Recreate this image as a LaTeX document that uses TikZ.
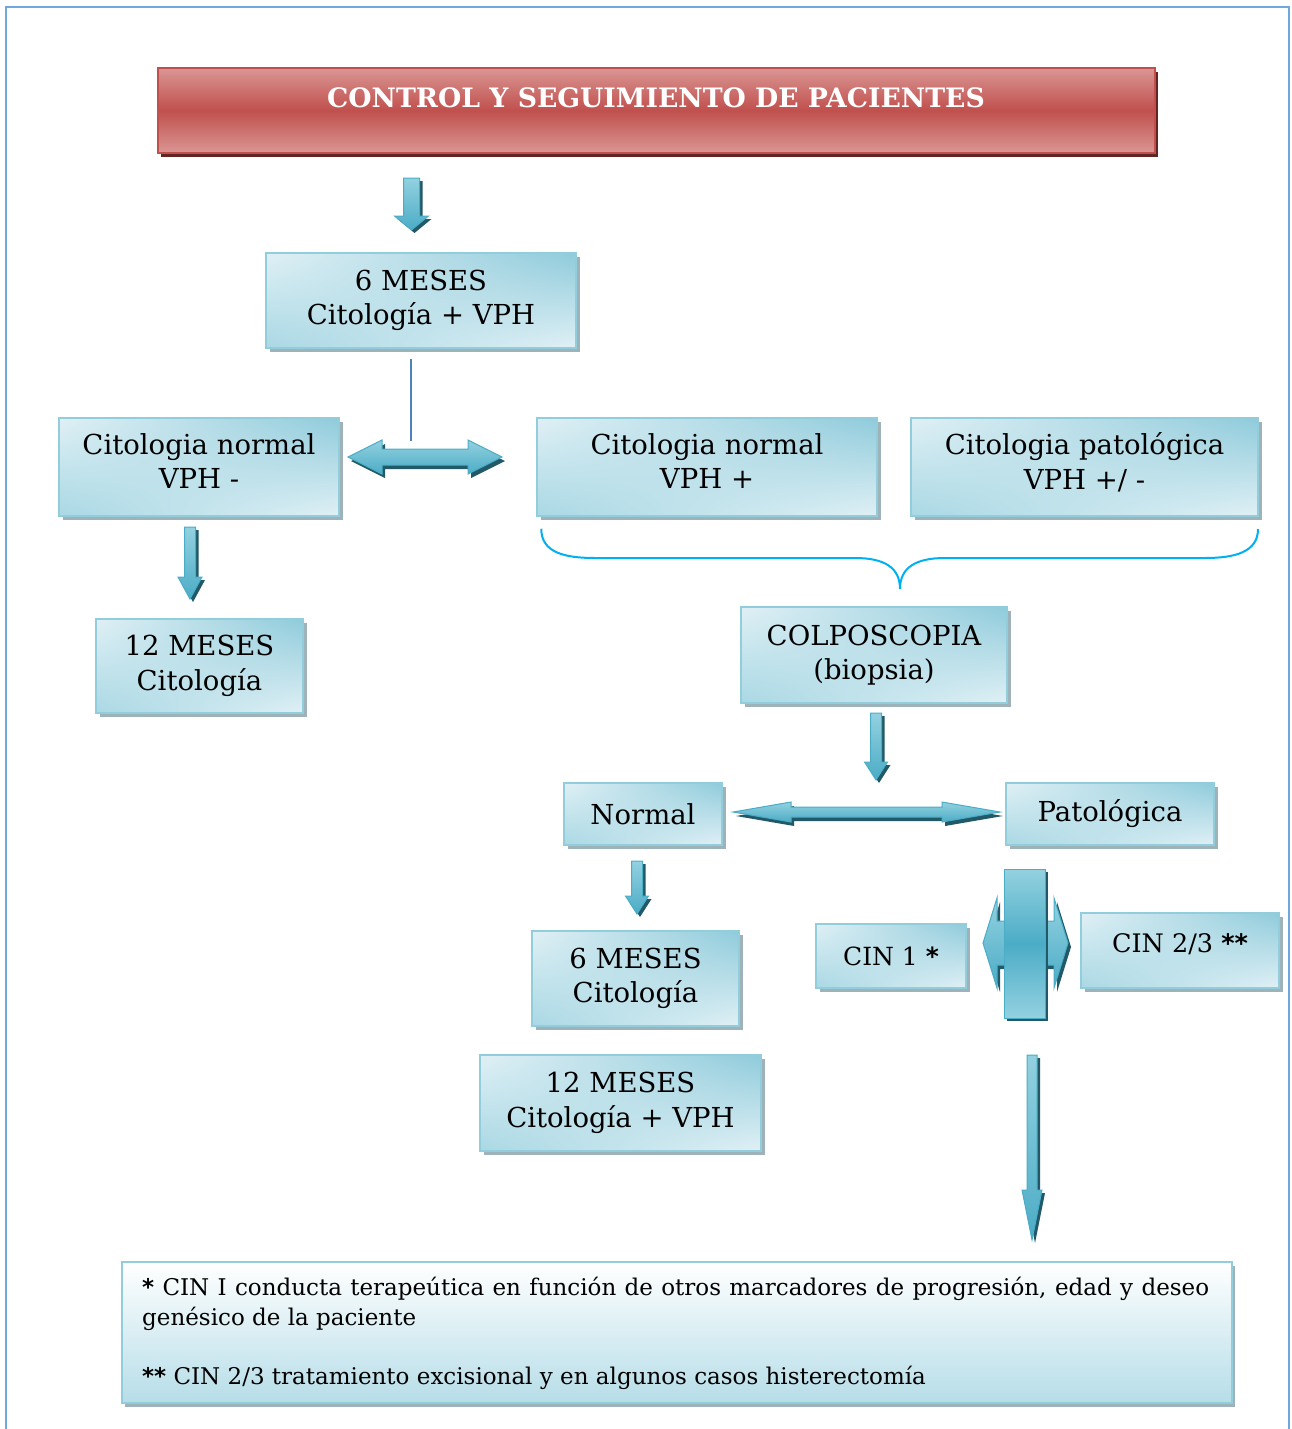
\documentclass[tikz,border=0pt]{standalone}
\usepackage{fontspec}
\setmainfont{DejaVu Serif}
\newfontfamily\astfont{DejaVu Sans}
\usetikzlibrary{shadows,shadings,calc}

\definecolor{framec}{HTML}{6FA8DC}
\definecolor{titlelight}{HTML}{DA9694}
\definecolor{titledark}{HTML}{C0504D}
\definecolor{titleshadow}{HTML}{632523}
\definecolor{bxlight}{HTML}{E0F0F5}
\definecolor{bxmid}{HTML}{A9D8E4}
\definecolor{bxdark}{HTML}{8FCBDB}
\definecolor{bxedge}{HTML}{92CDDC}
\definecolor{bxshadow}{HTML}{9DB2B9}
\definecolor{arrfill}{HTML}{4BACC6}
\definecolor{arrlight}{HTML}{93D1E0}
\definecolor{arrshadow}{HTML}{215968}
\definecolor{bracec}{HTML}{00B0F0}
\definecolor{linec}{HTML}{4F81BD}
\definecolor{notebottom}{HTML}{B6DDE8}

\tikzset{
  bx/.style={rectangle, draw=bxedge, line width=1.5pt,
    upper left=bxlight, upper right=bxdark, lower left=bxmid, lower right=bxlight,
    align=center, inner sep=0pt, font=\fontsize{27.5}{34.5}\selectfont,
    general shadow={fill=bxshadow, shadow xshift=4pt, shadow yshift=-4pt}},
  arrbody/.style={top color=arrlight, bottom color=arrfill, draw=arrfill, line width=1pt},
  arrshade/.style={fill=arrshadow}
}

% block arrow pointing down: x, top, tip, shaft half width, head half width, head length
\newcommand{\DownBlock}[6]{%
  \fill[arrshade, shift={(3,3)}] ({#1-#4},#2) -- ({#1+#4},#2) -- ({#1+#4},{#3-#6}) -- ({#1+#5},{#3-#6}) -- (#1,#3) -- ({#1-#5},{#3-#6}) -- ({#1-#4},{#3-#6}) -- cycle;
  \path[arrbody] ({#1-#4},#2) -- ({#1+#4},#2) -- ({#1+#4},{#3-#6}) -- ({#1+#5},{#3-#6}) -- (#1,#3) -- ({#1-#5},{#3-#6}) -- ({#1-#4},{#3-#6}) -- cycle;}

% block arrow with two heads, left-right: x1, x2, y, shaft half width, head half width, head length
\newcommand{\TwinBlock}[6]{%
  \fill[arrshade, shift={(3,4)}] (#1,#3) -- ({#1+#6},{#3-#5}) -- ({#1+#6},{#3-#4}) -- ({#2-#6},{#3-#4}) -- ({#2-#6},{#3-#5}) -- (#2,#3) -- ({#2-#6},{#3+#5}) -- ({#2-#6},{#3+#4}) -- ({#1+#6},{#3+#4}) -- ({#1+#6},{#3+#5}) -- cycle;
  \path[arrbody] (#1,#3) -- ({#1+#6},{#3-#5}) -- ({#1+#6},{#3-#4}) -- ({#2-#6},{#3-#4}) -- ({#2-#6},{#3-#5}) -- (#2,#3) -- ({#2-#6},{#3+#5}) -- ({#2-#6},{#3+#4}) -- ({#1+#6},{#3+#4}) -- ({#1+#6},{#3+#5}) -- cycle;}

\begin{document}
\begin{tikzpicture}[x=1pt, y=-1pt]
\useasboundingbox (0,0) rectangle (1291,1429);

% page frame
\draw[framec, line width=2pt] (6,1440) -- (6,7) -- (1289,7) -- (1289,1440);

% title banner
\fill[titleshadow] (161,72) rectangle (1158,157);
\shade[top color=titlelight, bottom color=titlelight, middle color=titledark, draw=titledark, line width=1.2pt]
  (158,68) rectangle (1155,153);
\node[text=white, font=\fontsize{26.7}{32}\selectfont\bfseries] (title) at (656,98) {CONTROL Y SEGUIMIENTO DE PACIENTES};

% boxes
\node[bx, minimum width=310, minimum height=95] (m6) at (421,300.5) {6 MESES\\Citología + VPH};
\node[bx, minimum width=280, minimum height=98, text depth=12pt] (cneg) at (199,467) {Citologia normal\\VPH -};
\node[bx, minimum width=340, minimum height=98, text depth=12pt] (cpos) at (707,467) {Citologia normal\\VPH +};
\node[bx, minimum width=347, minimum height=98, text depth=12pt] (cpat) at (1084.5,467) {Citologia patológica\\VPH +/ -};
\node[bx, minimum width=207, minimum height=94] (m12a) at (199.5,666) {12 MESES\\Citología};
\node[bx, minimum width=266, minimum height=96] (colpo) at (874,655) {COLPOSCOPIA\\(biopsia)};
\node[bx, minimum width=158, minimum height=62] (normal) at (643,814) {Normal};
\node[bx, minimum width=208, minimum height=62] (patol) at (1110,814) {Patológica};
\node[bx, minimum width=207, minimum height=95] (m6b) at (635.5,978.5) {6 MESES\\Citología};
\node[bx, minimum width=281, minimum height=96] (m12b) at (620.5,1103) {12 MESES\\Citología + VPH};
\node[bx, minimum width=150, minimum height=64, font=\fontsize{25}{30}\selectfont] (cin1) at (891,956) {CIN 1 {\astfont\bfseries *}};
\node[bx, minimum width=198, minimum height=75, font=\fontsize{25.5}{30}\selectfont, text depth=14pt] (cin23) at (1180,950.5) {CIN 2/3 {\astfont\bfseries **}};

% note box
\node[rectangle, draw=bxedge, line width=2pt, top color=white, bottom color=notebottom,
  minimum width=1110, minimum height=141, inner sep=0pt,
  general shadow={fill=bxshadow, shadow xshift=3pt, shadow yshift=-4pt}] (note) at (677,1332.5) {};
\node[anchor=north west, text width=1067, align=justify, inner sep=0pt,
  font=\fontsize{23}{29.5}\selectfont] (notetext) at ($(note.north west)+(21,16)$)
  {{\astfont\bfseries *} CIN I conducta terapeútica en función de otros marcadores de progresión, edad y deseo\linebreak
   genésico de la paciente\par\vspace{29.5pt}
   {\astfont\bfseries **} CIN 2/3 tratamiento excisional y en algunos casos histerectomía};

% connectors
\coordinate (split) at (411,441);
\draw[linec, line width=2pt] ($(m6.south -| split)+(0,10)$) -- (split);
\TwinBlock{348}{502}{457}{8}{17}{34}
\DownBlock{411.5}{178}{230}{8}{17}{14}
\DownBlock{190}{527}{599}{5.5}{12}{22}
\DownBlock{876}{713}{780}{5.5}{11.5}{18}
\TwinBlock{733}{1000}{812}{5}{10}{58}
\DownBlock{637}{861}{914}{5.5}{11.5}{18}
\DownBlock{1032}{1055}{1240}{5}{10}{50}

% cross-shaped marker between the CIN boxes
\TwinBlock{983}{1068}{943}{22}{45}{14}
\fill[arrshade] (1007,872) rectangle (1048,1021);
\shade[top color=arrlight, bottom color=arrlight, middle color=arrfill, draw=arrfill, line width=1pt]
  (1004,869) rectangle (1045,1018);

% brace gathering the two right-hand results
\draw[bracec, line width=2pt] (cpos.south west) ++(5,12)
  .. controls +(0,24) and (565,558) .. (595,558) -- (855,558)
  .. controls (885,558) and (900,568) .. (900,589)
  .. controls (900,568) and (915,558) .. (945,558) -- (1205,558)
  .. controls (1235,558) and (1258,552) .. (1258,529);
\end{tikzpicture}
\end{document}
